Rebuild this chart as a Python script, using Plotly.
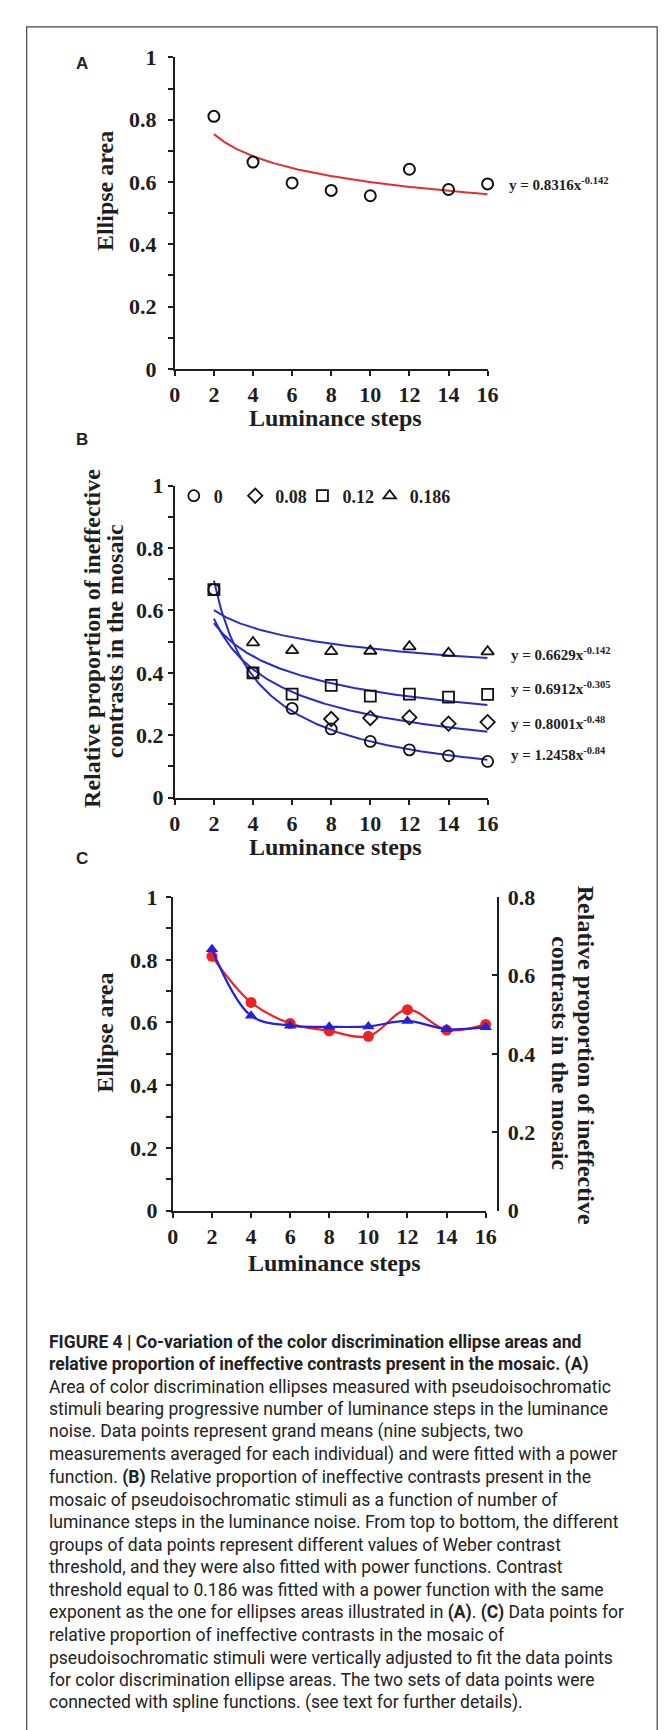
import numpy as np
import plotly.graph_objects as go

W, H = 667, 1730

# ---------------- data ----------------
steps = [2, 4, 6, 8, 10, 12, 14, 16]
ellipse_area = [0.811, 0.664, 0.597, 0.573, 0.556, 0.641, 0.576, 0.594]

contrast_labels = ["0", "0.08", "0.12", "0.186"]
# panel B series (None = point hidden behind the coincident square in the picture)
prop_0 = [0.667, 0.400, 0.286, 0.220, 0.180, 0.153, 0.134, 0.116]
prop_008 = [None, None, None, 0.252, 0.255, 0.257, 0.237, 0.242]
prop_012 = [0.667, 0.400, 0.332, 0.360, 0.325, 0.332, 0.322, 0.331]
prop_0186_b = [None, 0.497, 0.472, 0.469, 0.470, 0.484, 0.463, 0.468]
# panel C blue series (0.186 threshold, right axis)
prop_0186 = [0.667, 0.497, 0.472, 0.469, 0.470, 0.484, 0.463, 0.468]

fitA_coef, fitA_exp = 0.8316, -0.142
fitB_coef = [1.2458, 0.8001, 0.6912, 0.6629]
fitB_exp = [-0.84, -0.48, -0.305, -0.142]

eqA_text = "y = 0.8316x<sup>-0.142</sup>"
eqB_text = ["y = 0.6629x<sup>-0.142</sup>", "y = 0.6912x<sup>-0.305</sup>",
            "y = 0.8001x<sup>-0.48</sup>", "y = 1.2458x<sup>-0.84</sup>"]

x_tick_vals = [0, 2, 4, 6, 8, 10, 12, 14, 16]
x_tick_text = ["0", "2", "4", "6", "8", "10", "12", "14", "16"]
y_tick_vals = [0, 0.2, 0.4, 0.6, 0.8, 1.0]
y_tick_text = ["0", "0.2", "0.4", "0.6", "0.8", "1"]
y2_tick_vals = [0, 0.2, 0.4, 0.6, 0.8]
y2_tick_text = ["0", "0.2", "0.4", "0.6", "0.8"]

caption_head = [
    "FIGURE 4 | Co-variation of the color discrimination ellipse areas and",
    "relative proportion of ineffective contrasts present in the mosaic. (A)",
]
caption_body = [
    "Area of color discrimination ellipses measured with pseudoisochromatic",
    "stimuli bearing progressive number of luminance steps in the luminance",
    "noise. Data points represent grand means (nine subjects, two",
    "measurements averaged for each individual) and were fitted with a power",
    "function. <b>(B)</b> Relative proportion of ineffective contrasts present in the",
    "mosaic of pseudoisochromatic stimuli as a function of number of",
    "luminance steps in the luminance noise. From top to bottom, the different",
    "groups of data points represent different values of Weber contrast",
    "threshold, and they were also fitted with power functions. Contrast",
    "threshold equal to 0.186 was fitted with a power function with the same",
    "exponent as the one for ellipses areas illustrated in <b>(A)</b>. <b>(C)</b> Data points for",
    "relative proportion of ineffective contrasts in the mosaic of",
    "pseudoisochromatic stimuli were vertically adjusted to fit the data points",
    "for color discrimination ellipse areas. The two sets of data points were",
    "connected with spline functions. (see text for further details).",
]

# ---------------- helpers ----------------
def PX(x):
    return x / W

def PY(y):
    return 1 - y / H

SERIF = "Liberation Serif"
AX = "#1e1e1e"
RED = "#ee2222"
BLUE = "#2222dd"
CURVE_BLUE = "#2a2ac8"

tickfont = dict(family=SERIF, size=22, color=AX, weight="bold")

xgrid = np.linspace(2, 16, 200)

fig = go.Figure()

# ---------------- Panel A ----------------
fig.add_trace(go.Scatter(x=xgrid, y=fitA_coef * xgrid ** fitA_exp, mode="lines",
                         line=dict(color="#e03030", width=2), showlegend=False,
                         cliponaxis=False, xaxis="x", yaxis="y"))
fig.add_trace(go.Scatter(x=steps, y=ellipse_area, mode="markers",
                         marker=dict(symbol="circle-open", size=11, color="#111",
                                     line=dict(width=2)),
                         showlegend=False, cliponaxis=False, xaxis="x", yaxis="y"))

# ---------------- Panel B ----------------
for a, b in zip(fitB_coef, fitB_exp):
    fig.add_trace(go.Scatter(x=xgrid, y=a * xgrid ** b, mode="lines",
                             line=dict(color=CURVE_BLUE, width=2), showlegend=False,
                             cliponaxis=False, xaxis="x2", yaxis="y2"))
symbols = ["circle-open", "diamond-open", "square-open", "triangle-up-open"]
legend_ids = ["legend", "legend2", "legend3", "legend4"]
for name, sym, vals, lg in zip(contrast_labels, symbols,
                               [prop_0, prop_008, prop_012, prop_0186_b], legend_ids):
    fig.add_trace(go.Scatter(x=steps, y=vals, mode="markers", name=name,
                             marker=dict(symbol=sym, size=11, color="#111",
                                         line=dict(width=1.8)),
                             showlegend=True, legend=lg, cliponaxis=False,
                             xaxis="x2", yaxis="y2"))

# ---------------- Panel C ----------------
fig.add_trace(go.Scatter(x=steps, y=ellipse_area, mode="lines+markers",
                         line=dict(color=RED, width=2.2, shape="spline", smoothing=1),
                         marker=dict(symbol="circle", size=11, color=RED),
                         showlegend=False, cliponaxis=False, xaxis="x3", yaxis="y3"))
fig.add_trace(go.Scatter(x=steps, y=prop_0186, mode="lines+markers",
                         line=dict(color=BLUE, width=2.2, shape="spline", smoothing=1),
                         marker=dict(symbol="triangle-up", size=11, color=BLUE),
                         showlegend=False, cliponaxis=False, xaxis="x3", yaxis="y4"))

# ---------------- axes ----------------
def xax(domain, anchor):
    return dict(domain=domain, anchor=anchor, range=[0, 16], showline=True,
                linecolor=AX, linewidth=2, ticks="outside", ticklen=5, tickwidth=2,
                tickcolor=AX, showgrid=False, zeroline=False,
                tickmode="array", tickvals=x_tick_vals, ticktext=x_tick_text,
                tickfont=tickfont, ticklabelstandoff=0)

def yax(domain, anchor, standoff):
    return dict(domain=domain, anchor=anchor, range=[0, 1], showline=True,
                linecolor=AX, linewidth=2, ticks="outside", ticklen=5, tickwidth=2,
                tickcolor=AX, showgrid=False, zeroline=False,
                tickmode="array", tickvals=y_tick_vals, ticktext=y_tick_text,
                tickfont=tickfont, ticklabelstandoff=standoff,
                minor=dict(dtick=0.1, ticks="outside", ticklen=5, tickwidth=2,
                           tickcolor=AX, showgrid=False))

fig.update_layout(
    xaxis=xax([PX(165), PX(486)], "y"),
    yaxis=yax([PY(354), PY(38)], "x", 7),
    xaxis2=xax([PX(165), PX(486)], "y2"),
    yaxis2=yax([PY(789), PY(472.5)], "x2", 0),
    xaxis3=xax([PX(163), PX(484)], "y3"),
    yaxis3=yax([PY(1208), PY(890)], "x3", 4),
    yaxis4=dict(overlaying="y3", side="right", anchor="free", position=PX(497),
                range=[0, 0.8], showline=True, linecolor=AX, linewidth=2,
                ticks="inside", ticklen=5, tickwidth=2, tickcolor=AX,
                showgrid=False, zeroline=False, tickmode="array",
                tickvals=y2_tick_vals, ticktext=y2_tick_text, tickfont=tickfont,
                ticklabelstandoff=4),
)

# ---------------- annotations ----------------
ann = []

def text(x, y, t, size=24, angle=0, xanchor="center", family=SERIF, weight="bold",
         color=AX):
    ann.append(dict(xref="paper", yref="paper", x=PX(x), y=PY(y), text=t,
                    showarrow=False, textangle=angle, xanchor=xanchor,
                    yanchor="middle",
                    font=dict(family=family, size=size, color=color, weight=weight)))

# panel letters
LETTER = "Liberation Sans"
text(70, 44, "A", size=17, family=LETTER, color="#222")
text(70, 426, "B", size=17, family=LETTER, color="#222")
text(70, 851, "C", size=17, family=LETTER, color="#222")

# panel A
text(330, 404, "Luminance steps")
text(94, 174, "Ellipse area", angle=-90)
text(506, 166, eqA_text, size=15, xanchor="left")

# panel B
text(330, 839, "Luminance steps")
text(80, 627, "Relative proportion of ineffective", angle=-90)
text(104, 630, "contrasts in the mosaic", angle=-90)
for t, yy in zip(eqB_text, [643, 678, 713, 745]):
    text(508, yy, t, size=15, xanchor="left")

# panel C
text(329, 1261, "Luminance steps")
text(94, 1028, "Ellipse area", angle=-90)
text(587, 1050, "Relative proportion of ineffective", angle=90)
text(560, 1048, "contrasts in the mosaic", angle=90)

# caption
all_lines = [(l, "bold") for l in caption_head] + [(l, "normal") for l in caption_body]
for i, (line, wgt) in enumerate(all_lines):
    text(34, 1341 + i * 22.9, line, size=17.5, xanchor="left",
         family="Roboto", weight=wgt, color="#222")

# legends for panel B (one per entry to match the spacing)
legend_sym_px = [189, 252, 321, 390]
leg_common = dict(yanchor="middle", xanchor="left", bgcolor="rgba(0,0,0,0)",
                  font=dict(family=SERIF, size=18, color=AX, weight="bold"),
                  itemclick=False, itemdoubleclick=False, borderwidth=0)
legends = {}
for lg, sx in zip(legend_ids, legend_sym_px):
    legends[lg] = dict(x=PX(sx - 25), y=PY(483), **leg_common)

fig.update_layout(
    width=W, height=H, autosize=False,
    margin=dict(l=0, r=0, t=0, b=0),
    paper_bgcolor="white", plot_bgcolor="white",
    annotations=ann,
    showlegend=True,
    shapes=[dict(type="rect", xref="paper", yref="paper", x0=PX(13), x1=PX(660),
                 y0=-0.02, y1=PY(7), line=dict(color="#444", width=1.2))],
    **legends,
)

fig.write_html("out.html")
